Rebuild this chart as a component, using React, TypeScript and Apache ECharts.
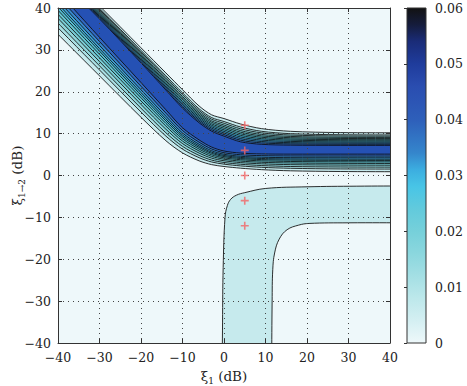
import React, { useEffect, useRef } from "react";
import * as echarts from "echarts";

// Axes
const AXIS_MIN = -40;
const AXIS_MAX = 40;
const AXIS_STEP = 10;
const CBAR_MAX = 0.06;
const CBAR_STEP = 0.01;

// Contour levels and their fill colours (outermost first)
const levels = [0.004, 0.008, 0.012, 0.016, 0.02, 0.024, 0.028, 0.032, 0.036, 0.04, 0.044];
const levelColors = [
  "#c6eaed", "#a9dfe3", "#8fd5da", "#78ccd4", "#66c6d2", "#56bfd4",
  "#48b6d8", "#3fa2d6", "#3888cc", "#3168c0", "#2551b4",
];

// Colour map of the colour bar
const cmapValues = [0, 0.004, 0.008, 0.012, 0.016, 0.02, 0.024, 0.028, 0.031, 0.034, 0.04, 0.046, 0.05, 0.054, 0.057, 0.06];
const cmapColors = [
  "#eef8fa", "#d4eff2", "#bde8eb", "#a4dfe4", "#8bd7de", "#76d0da", "#62cadc", "#48c5e6",
  "#3caee0", "#3586cc", "#2e5fba", "#2a4db0", "#1f3c9c", "#1a2c78", "#151c3c", "#121212",
];

// ξ1 stations at which the ridge contour lines are sampled
const stationX = [-60, -45, -30, -20, -14, -10, -6, -3, 0, 4, 9, 16, 28, 45, 60];

// Ridge: ξ1→2 of each contour line below the crest (outermost first)
const lowerFlank: number[][] = [
  [53.7, 38.7, 23.8, 13.9, 8.3, 5.4, 3.5, 2.6, 2.15, 1.75, 1.4, 1.12, 0.95, 0.9, 0.9],
  [55.5, 40.3, 25.2, 15.15, 9.4, 6.3, 4.25, 3.23, 2.71, 2.29, 1.96, 1.72, 1.57, 1.53, 1.53],
  [56.8, 41.5, 26.2, 16.06, 10.2, 6.96, 4.8, 3.69, 3.11, 2.69, 2.38, 2.15, 2.03, 1.99, 1.99],
  [58.1, 42.7, 27.2, 16.97, 11.04, 7.62, 5.35, 4.15, 3.52, 3.08, 2.79, 2.59, 2.49, 2.45, 2.45],
  [59.3, 43.7, 28.1, 17.8, 11.8, 8.22, 5.85, 4.57, 3.89, 3.44, 3.16, 2.99, 2.9, 2.87, 2.87],
  [60.4, 44.7, 28.95, 18.55, 12.44, 8.76, 6.3, 4.95, 4.22, 3.77, 3.5, 3.35, 3.27, 3.25, 3.25],
  [61.4, 45.55, 29.7, 19.2, 13.04, 9.24, 6.7, 5.29, 4.52, 4.05, 3.8, 3.67, 3.61, 3.59, 3.59],
  [62.2, 46.3, 30.3, 19.8, 13.55, 9.66, 7.05, 5.58, 4.78, 4.31, 4.06, 3.95, 3.9, 3.88, 3.88],
  [63.2, 47.15, 31.07, 20.46, 14.15, 10.14, 7.45, 5.92, 5.07, 4.59, 4.36, 4.26, 4.23, 4.22, 4.22],
  [64.4, 48.2, 32.0, 21.3, 14.9, 10.74, 7.95, 6.34, 5.44, 4.95, 4.74, 4.66, 4.64, 4.64, 4.64],
  [65.7, 49.4, 33.0, 22.2, 15.7, 11.4, 8.5, 6.8, 5.85, 5.35, 5.15, 5.1, 5.1, 5.1, 5.1],
];

// Ridge: ξ1→2 of each contour line above the crest (outermost first)
const upperFlank: number[][] = [
  [70.5, 55.5, 40.5, 30.5, 24.5, 20.5, 16.6, 14.5, 13.6, 12.3, 11.2, 10.55, 10.25, 10.2, 10.2],
  [69.96, 54.94, 39.97, 29.89, 23.8, 19.75, 15.92, 13.84, 12.89, 11.58, 10.56, 9.99, 9.73, 9.69, 9.69],
  [69.64, 54.61, 39.66, 29.53, 23.39, 19.31, 15.52, 13.45, 12.47, 11.15, 10.19, 9.66, 9.43, 9.39, 9.39],
  [69.32, 54.28, 39.35, 29.17, 22.98, 18.87, 15.12, 13.06, 12.05, 10.73, 9.81, 9.33, 9.12, 9.09, 9.09],
  [69.03, 53.98, 39.07, 28.84, 22.61, 18.48, 14.76, 12.71, 11.67, 10.34, 9.47, 9.03, 8.85, 8.82, 8.82],
  [68.74, 53.68, 38.79, 28.52, 22.24, 18.08, 14.4, 12.35, 11.29, 9.96, 9.14, 8.73, 8.57, 8.55, 8.55],
  [68.45, 53.39, 38.52, 28.2, 21.88, 17.68, 14.04, 12.0, 10.91, 9.58, 8.8, 8.44, 8.3, 8.28, 8.28],
  [68.16, 53.09, 38.24, 27.87, 21.51, 17.29, 13.68, 11.65, 10.53, 9.2, 8.46, 8.14, 8.02, 8.01, 8.01],
  [67.88, 52.79, 37.96, 27.55, 21.14, 16.89, 13.32, 11.3, 10.16, 8.81, 8.12, 7.84, 7.75, 7.74, 7.74],
  [67.59, 52.5, 37.68, 27.22, 20.77, 16.5, 12.96, 10.95, 9.78, 8.43, 7.79, 7.55, 7.47, 7.47, 7.47],
  [67.3, 52.2, 37.4, 26.9, 20.4, 16.1, 12.6, 10.6, 9.4, 8.05, 7.45, 7.25, 7.2, 7.2, 7.2],
];

// L-shaped region at the lowest level
const lShapeOuter: number[][] = [
  [-0.5, -70], [-0.45, -50], [-0.35, -35], [-0.2, -22], [0.25, -10], [0.8, -7.2], [1.6, -5.7],
  [3, -4.7], [5, -4.1], [10, -3.1], [20, -2.7], [32, -2.55], [45, -2.5], [60, -2.5],
];
const lShapeInner: number[][] = [
  [60, -11.3], [45, -11.3], [30, -11.3], [20.5, -11.45], [18, -11.85], [15.2, -12.95],
  [13.3, -15.2], [12.2, -18.5], [11.75, -22.5], [11.6, -30], [11.5, -45], [11.5, -70],
];

// Marked points
const markerX = [5, 5, 5, 5, 5];
const markerY = [12, 6, 0, -6, -12];

const FONT = "'DejaVu Serif', 'Liberation Serif', serif";
const TEXT = "#222";
const AXIS_COLOR = "#333";

type Poly = { points: number[][]; color: string; smooth: number };

const toPoints = (ys: number[]) => stationX.map((x, i) => [x, ys[i]]);

function buildPolys(): Poly[] {
  const polys: Poly[] = [];
  polys.push({ points: [...lShapeOuter, ...lShapeInner], color: levelColors[0], smooth: 0.4 });
  for (let k = 0; k < levels.length; k++) {
    polys.push({
      points: [...toPoints(lowerFlank[k]), ...toPoints(upperFlank[k]).reverse()],
      color: levelColors[k],
      smooth: 0.3,
    });
  }
  return polys;
}

const fmtTick = (v: number) => (v < 0 ? "\u2212" + Math.abs(v) : String(v));

export default function App() {
  const ref = useRef<HTMLDivElement>(null);

  useEffect(() => {
    if (!ref.current) return;
    const chart = echarts.init(ref.current, undefined, { renderer: "svg" });
    const polys = buildPolys();

    const cbarStops = cmapValues.map((v, i) => ({ offset: v / CBAR_MAX, color: cmapColors[i] }));

    const mainAxisCommon = {
      type: "value",
      gridIndex: 0,
      min: AXIS_MIN,
      max: AXIS_MAX,
      interval: AXIS_STEP,
      z: 3,
      axisLine: { show: true, onZero: false, lineStyle: { color: AXIS_COLOR, width: 1 } },
      axisTick: { show: true, inside: true, length: 4, lineStyle: { color: AXIS_COLOR } },
    };

    const nameRich = {
      a: { fontFamily: FONT, fontSize: 13.5, color: TEXT, lineHeight: 18 },
      s: { fontFamily: FONT, fontSize: 9, color: TEXT, verticalAlign: "bottom" },
    };

    chart.setOption({
      animation: false,
      backgroundColor: "#ffffff",
      grid: [
        {
          left: 58, top: 8, width: 332, height: 335,
          show: true, backgroundColor: "#eef8fa", borderWidth: 0,
          outerBoundsMode: "none", containLabel: false,
        },
        { left: 407, top: 8, width: 19, height: 335, outerBoundsMode: "none", containLabel: false },
      ],
      xAxis: [
        {
          ...mainAxisCommon,
          position: "bottom",
          axisLabel: { color: TEXT, fontFamily: FONT, fontSize: 12.5, margin: 8, formatter: fmtTick },
          splitLine: { show: true, lineStyle: { color: "#444", width: 1, type: [1, 4] } },
          name: "{a|\u03be}{s|1}{a| (dB)}",
          nameLocation: "middle",
          nameGap: 24,
          nameTextStyle: { rich: nameRich },
        },
        {
          ...mainAxisCommon,
          position: "top",
          axisLabel: { show: false },
          splitLine: { show: false },
        },
        { type: "value", gridIndex: 1, min: 0, max: 1, show: false },
      ],
      yAxis: [
        {
          ...mainAxisCommon,
          position: "left",
          axisLabel: { color: TEXT, fontFamily: FONT, fontSize: 12.5, margin: 7, formatter: fmtTick },
          splitLine: { show: true, lineStyle: { color: "#444", width: 1, type: [1, 4] } },
          name: "{a|\u03be}{s|1\u21922}{a| (dB)}",
          nameLocation: "middle",
          nameRotate: 90,
          nameGap: 32,
          nameMoveOverlap: false,
          nameTextStyle: { rich: nameRich },
        },
        {
          ...mainAxisCommon,
          position: "right",
          axisLabel: { show: false },
          splitLine: { show: false },
        },
        {
          type: "value",
          gridIndex: 1,
          min: 0,
          max: CBAR_MAX,
          interval: CBAR_STEP,
          position: "right",
          z: 3,
          axisLine: { show: false },
          axisTick: { show: true, inside: true, length: 3, lineStyle: { color: AXIS_COLOR } },
          axisLabel: {
            color: TEXT,
            fontFamily: FONT,
            fontSize: 12.5,
            margin: 9,
            formatter: (v: number) => (v === 0 ? "0" : v.toFixed(2)),
          },
          splitLine: { show: false },
        },
      ],
      series: [
        {
          type: "custom",
          coordinateSystem: "cartesian2d",
          xAxisIndex: 0,
          yAxisIndex: 0,
          clip: true,
          z: 2,
          silent: true,
          data: polys.map(() => [0, 0]),
          renderItem: (params: any, api: any) => {
            const poly = polys[params.dataIndex];
            const cs = params.coordSys;
            return {
              type: "polygon",
              z2: params.dataIndex,
              shape: { points: poly.points.map((p) => api.coord(p)), smooth: poly.smooth },
              style: { fill: poly.color, stroke: "#0c0c0c", lineWidth: 0.85 },
              clipPath: { type: "rect", shape: { x: cs.x, y: cs.y, width: cs.width, height: cs.height } },
            };
          },
        },
        {
          type: "scatter",
          xAxisIndex: 0,
          yAxisIndex: 0,
          z: 4,
          symbol: "path://M4,0h2v4h4v2h-4v4h-2v-4h-4v-2h4z",
          symbolSize: 8,
          itemStyle: { color: "#f26464" },
          data: markerX.map((x, i) => [x, markerY[i]]),
        },
        {
          type: "custom",
          coordinateSystem: "cartesian2d",
          xAxisIndex: 2,
          yAxisIndex: 2,
          z: 2,
          silent: true,
          data: [[0, 0]],
          renderItem: (_params: any, api: any) => {
            const p0 = api.coord([0, CBAR_MAX]);
            const p1 = api.coord([1, 0]);
            return {
              type: "rect",
              shape: { x: p0[0], y: p0[1], width: p1[0] - p0[0], height: p1[1] - p0[1] },
              style: {
                fill: new echarts.graphic.LinearGradient(0, 1, 0, 0, cbarStops),
                stroke: AXIS_COLOR,
                lineWidth: 1,
              },
            };
          },
        },
      ],
    });

    return () => chart.dispose();
  }, []);

  return (
    <div
      ref={ref}
      style={{ position: "absolute", left: 0, top: 0, width: 467, height: 386 }}
    />
  );
}
